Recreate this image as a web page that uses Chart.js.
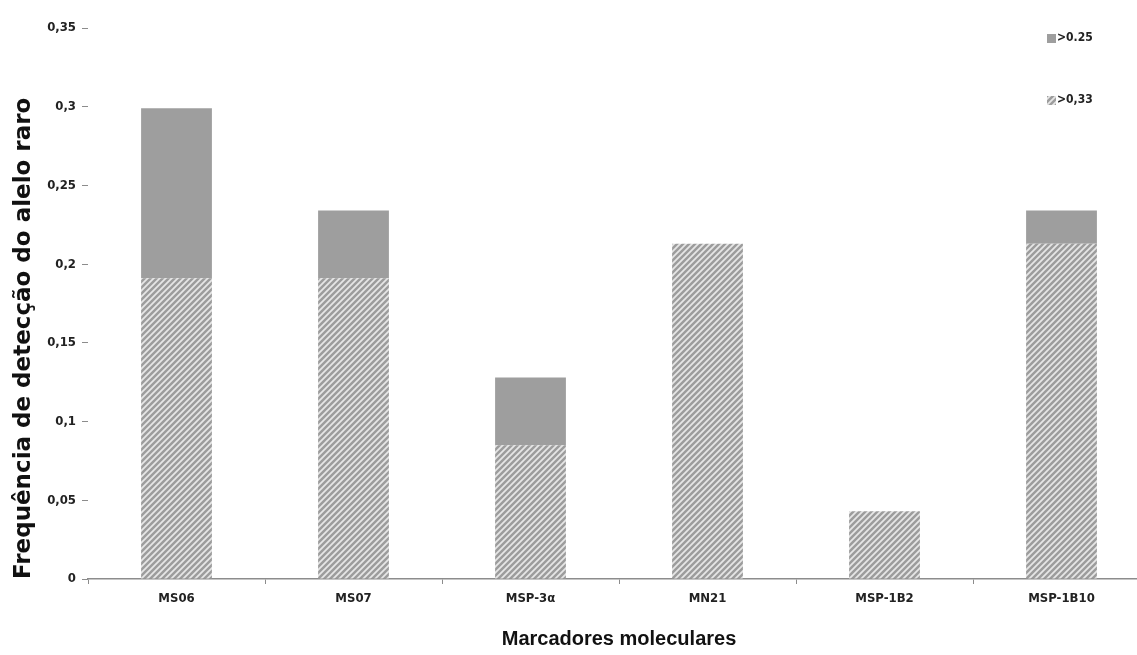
<!DOCTYPE html>
<html>
<head>
<meta charset="utf-8">
<script src="https://cdn.jsdelivr.net/npm/chart.js@4.4.1/dist/chart.umd.min.js"></script>
<style>
  html, body { margin: 0; padding: 0; background: #fff; overflow: hidden; }
  #wrap { width: 1150px; height: 655px; }
</style>
</head>
<body>
<div id="wrap"><canvas id="chart"></canvas></div>
<script>
// Dados
const marcadores = ['MS06', 'MS07', 'MSP-3\u03b1', 'MN21', 'MSP-1B2', 'MSP-1B10'];
const acima033 = [0.191, 0.191, 0.085, 0.213, 0.043, 0.213];
const acima025 = [0.108, 0.043, 0.043, 0, 0, 0.021];
const yTicks = ['0', '0,05', '0,1', '0,15', '0,2', '0,25', '0,3', '0,35'];

// Padrão hachurado
function hatch() {
  const c = document.createElement('canvas');
  c.width = 6; c.height = 6;
  const g = c.getContext('2d');
  g.fillStyle = '#9c9c9c';
  g.fillRect(0, 0, 6, 6);
  g.strokeStyle = '#e6e6e6';
  g.lineWidth = 1.8;
  g.beginPath();
  g.moveTo(-1, 7); g.lineTo(7, -1);
  g.moveTo(-4, 4); g.lineTo(4, -4);
  g.moveTo(2, 10); g.lineTo(10, 2);
  g.stroke();
  return g.createPattern(c, 'repeat');
}
const hachura = hatch();
const cinza = '#9e9e9e';

// Legenda no canto superior direito
const legenda = {
  id: 'legenda',
  afterDraw(chart) {
    const ctx = chart.ctx;
    const itens = [
      { texto: chart.data.datasets[1].label, cor: chart.data.datasets[1].backgroundColor, y: 38 },
      { texto: chart.data.datasets[0].label, cor: chart.data.datasets[0].backgroundColor, y: 100 }
    ];
    ctx.save();
    ctx.font = 'bold 12px "DejaVu Sans Condensed", sans-serif';
    ctx.textBaseline = 'middle';
    itens.forEach(it => {
      ctx.fillStyle = it.cor;
      ctx.fillRect(1047, it.y - 4, 9, 9);
      ctx.fillStyle = '#222';
      ctx.fillText(it.texto, 1057, it.y);
    });
    ctx.restore();
  }
};

const tickFont = { family: '"DejaVu Sans Condensed", sans-serif', size: 13, weight: 'bold' };

new Chart(document.getElementById('chart'), {
  type: 'bar',
  data: {
    labels: marcadores,
    datasets: [
      { label: '>0,33', data: acima033, backgroundColor: hachura, barPercentage: 0.4, categoryPercentage: 1 },
      { label: '>0.25', data: acima025, backgroundColor: cinza, barPercentage: 0.4, categoryPercentage: 1 }
    ]
  },
  options: {
    responsive: true,
    maintainAspectRatio: false,
    animation: false,
    layout: { padding: { top: 28, left: 6, bottom: 0, right: 0 } },
    plugins: { legend: { display: false }, tooltip: { enabled: false } },
    scales: {
      x: {
        stacked: true,
        afterFit: (s) => { s.height = 76; },
        grid: { drawOnChartArea: false, tickLength: 5, color: '#8c8c8c' },
        border: { color: '#8c8c8c', width: 1.5 },
        ticks: { font: tickFont, color: '#222', padding: 7, maxRotation: 0 },
        title: {
          display: true, text: 'Marcadores moleculares', color: '#111',
          font: { family: '"Liberation Sans", Arial, sans-serif', size: 20, weight: 'bold' }
        }
      },
      y: {
        stacked: true,
        min: 0,
        max: 0.35,
        afterFit: (s) => { s.width = 82; },
        grid: { drawOnChartArea: false, tickLength: 6, color: '#8c8c8c' },
        border: { display: false },
        ticks: {
          stepSize: 0.05,
          font: tickFont,
          color: '#222',
          padding: 6,
          callback: (v, i) => yTicks[i]
        },
        title: {
          display: true, align: 'start', text: 'Frequência de detecção do alelo raro', color: '#111',
          font: { family: '"DejaVu Sans", sans-serif', size: 23, weight: 'bold' }
        }
      }
    }
  },
  plugins: [legenda]
});
</script>
</body>
</html>
